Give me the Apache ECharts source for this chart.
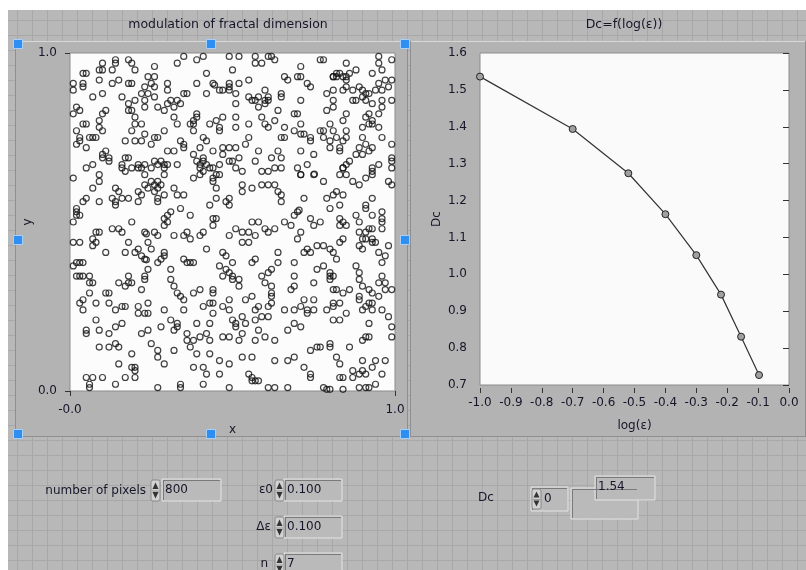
<!DOCTYPE html>
<html><head><meta charset="utf-8">
<script src="https://cdn.jsdelivr.net/npm/echarts@6/dist/echarts.min.js"></script>
<style>
html,body{margin:0;padding:0;background:#fff;width:806px;height:570px;overflow:hidden;}
#panel{position:absolute;left:8px;top:10px;width:798px;height:560px;background-color:#b8b8b8;
background-image:linear-gradient(to right,#a8a8a8 1px,transparent 1px),linear-gradient(to bottom,#a8a8a8 1px,transparent 1px);
background-size:15px 15px;background-position:9px 10px;}
#chart{position:absolute;left:0;top:0;width:806px;height:570px;}
</style></head><body><div id="panel"></div><div id="chart"></div>
<script>
// ---------- data ----------
const leftTitle = 'modulation of fractal dimension';
const rightTitle = 'Dc=f(log(ε))';
const scatterXTickLabels = ['-0.0', '1.0'];
const scatterYTickLabels = ['0.0', '1.0'];
const logEps = [-1.0, -0.70, -0.52, -0.40, -0.30, -0.22, -0.155, -0.097];
const dcValues = [1.536, 1.394, 1.274, 1.163, 1.052, 0.945, 0.831, 0.727];
const controlLabels = ['number of pixels', 'ε0', 'Δε', 'n', 'Dc'];
const controlValues = ['800', '0.100', '0.100', '7', '0', '1.54'];

const scatterTop = [
[0.14,0.98],[0.14,0.97],[0.10,0.97],[0.18,0.98],[0.19,0.97],[0.26,0.96],[0.33,0.97],[0.35,0.99],[0.39,0.98],[0.41,0.99],[0.49,0.99],[0.52,0.99],[0.57,0.99],[0.57,0.97],[0.59,0.97],[0.61,0.99],[0.62,0.99],[0.63,0.98],[0.77,0.98],[0.78,0.98],[0.85,0.97],[0.95,0.99],[0.95,0.97],[0.99,0.98],
[0.04,0.94],[0.05,0.94],[0.09,0.95],[0.10,0.95],[0.13,0.95],[0.20,0.95],[0.42,0.94],[0.50,0.95],[0.71,0.96],[0.71,0.93],[0.66,0.93],[0.67,0.92],[0.81,0.93],[0.82,0.94],[0.83,0.94],[0.85,0.93],[0.86,0.94],[0.88,0.95],[0.93,0.94],[0.96,0.95],
[0.01,0.91],[0.01,0.89],[0.04,0.91],[0.04,0.90],[0.09,0.92],[0.13,0.91],[0.15,0.92],[0.18,0.91],[0.19,0.91],[0.24,0.93],[0.26,0.93],[0.25,0.91],[0.26,0.90],[0.23,0.90],[0.22,0.88],[0.24,0.88],[0.30,0.91],[0.30,0.89],[0.39,0.91],[0.44,0.91],[0.445,0.905],[0.46,0.89],[0.47,0.89],[0.49,0.91],[0.49,0.90],[0.49,0.89],[0.52,0.91],[0.55,0.92],[0.60,0.89],[0.61,0.87],[0.55,0.87],[0.56,0.86],[0.57,0.86],[0.58,0.87],[0.60,0.86],[0.61,0.86],[0.65,0.88],[0.65,0.87],[0.70,0.93],[0.73,0.91],[0.74,0.90],[0.81,0.93],[0.82,0.93],[0.84,0.93],[0.85,0.92],[0.85,0.90],[0.81,0.89],[0.84,0.89],[0.87,0.89],[0.89,0.90],[0.90,0.89],[0.91,0.88],[0.92,0.88],[0.94,0.89],[0.96,0.89],[0.95,0.91],[0.97,0.92],[0.99,0.92],[0.98,0.90],[0.99,0.86],[0.96,0.86],[0.93,0.85],[0.91,0.86],[0.90,0.87],[0.88,0.86],
[0.10,0.88],[0.07,0.87],[0.16,0.87],[0.20,0.86],[0.18,0.85],[0.23,0.86],[0.26,0.87],[0.31,0.86],[0.30,0.85],[0.33,0.86],[0.35,0.88],[0.36,0.88],[0.42,0.88],[0.51,0.88],[0.51,0.85],[0.58,0.84],[0.60,0.85],[0.71,0.86],[0.79,0.88],[0.81,0.86],[0.81,0.84],[0.87,0.86],
[0.02,0.84],[0.01,0.82],[0.03,0.83],[0.10,0.82],[0.11,0.83],[0.18,0.83],[0.19,0.83],[0.23,0.84],[0.27,0.84],[0.29,0.83],[0.32,0.84],[0.34,0.85],[0.39,0.82],[0.39,0.81],[0.64,0.83],[0.69,0.82],[0.79,0.83],[0.85,0.82],[0.92,0.82],[0.95,0.82],[0.96,0.84],
[0.04,0.79],[0.05,0.79],[0.09,0.80],[0.09,0.78],[0.10,0.77],[0.02,0.77],[0.20,0.81],[0.20,0.79],[0.22,0.79],[0.19,0.77],[0.32,0.81],[0.33,0.79],[0.38,0.80],[0.38,0.79],[0.37,0.79],[0.38,0.77],[0.43,0.79],[0.45,0.80],[0.46,0.78],[0.47,0.81],[0.51,0.81],[0.51,0.78],[0.55,0.79],[0.59,0.81],[0.60,0.79],[0.61,0.78],[0.63,0.80],[0.66,0.78],[0.70,0.82],[0.71,0.79],[0.69,0.77],[0.72,0.76],[0.78,0.77],[0.80,0.79],[0.81,0.77],[0.84,0.80],[0.85,0.77],[0.91,0.81],[0.92,0.79],[0.93,0.80],[0.93,0.79],[0.95,0.78],[0.90,0.78],
[0.03,0.75],[0.03,0.74],[0.06,0.75],[0.07,0.75],[0.08,0.75],[0.17,0.74],[0.20,0.74],[0.22,0.74],[0.23,0.76],[0.26,0.75],[0.27,0.75],[0.29,0.77],[0.34,0.74],[0.35,0.73],[0.41,0.75],[0.42,0.74],[0.46,0.77],[0.55,0.75],[0.54,0.73],[0.65,0.75],[0.66,0.75],[0.71,0.76],[0.74,0.75],[0.74,0.74],[0.77,0.77],[0.78,0.75],[0.80,0.74],[0.82,0.75],[0.84,0.74],[0.85,0.75],[0.90,0.75],[0.96,0.75],[0.99,0.73],
[0.02,0.73],[0.05,0.72],[0.10,0.70],[0.12,0.69],[0.10,0.69],[0.17,0.69],[0.18,0.69],[0.21,0.67],[0.26,0.68],[0.28,0.68],[0.30,0.71],[0.32,0.71],[0.35,0.72],[0.38,0.70],[0.40,0.72],[0.41,0.69],[0.39,0.68],[0.41,0.68],[0.44,0.71],[0.47,0.72],[0.49,0.72],[0.51,0.72],[0.47,0.70],[0.50,0.68],[0.52,0.69],[0.58,0.71],[0.62,0.69],[0.64,0.71],[0.65,0.69],[0.71,0.71],[0.75,0.70],[0.80,0.72],[0.83,0.72],[0.83,0.71],[0.86,0.68],[0.89,0.72],[0.91,0.73],[0.92,0.71],[0.93,0.72],[0.88,0.70],[0.90,0.70],[0.99,0.69],[0.99,0.68],[0.25,0.73],[0.11,0.71],[0.30,0.67],[0.40,0.67]
];
const scatterMid = [
[0.05,0.66],[0.07,0.67],[0.12,0.68],[0.16,0.67],[0.17,0.65],[0.16,0.66],[0.19,0.66],[0.21,0.66],[0.22,0.66],[0.23,0.64],[0.23,0.67],[0.25,0.66],[0.27,0.67],[0.29,0.66],[0.29,0.67],[0.33,0.67],[0.40,0.66],[0.41,0.65],[0.42,0.67],[0.43,0.66],[0.44,0.66],[0.46,0.67],[0.49,0.68],[0.51,0.66],[0.53,0.65],[0.57,0.68],[0.59,0.65],[0.61,0.65],[0.63,0.66],[0.65,0.66],[0.70,0.66],[0.71,0.64],[0.71,0.64],[0.73,0.67],[0.75,0.64],[0.752,0.642],[0.84,0.66],[0.84,0.66],[0.85,0.67],[0.83,0.64],[0.85,0.64],[0.93,0.65],[0.93,0.66],[0.95,0.67],[0.91,0.63],[0.99,0.66],[0.01,0.63],[0.09,0.64],[0.09,0.62],
[0.44,0.63],[0.44,0.62],[0.45,0.64],[0.46,0.64],[0.45,0.60],[0.38,0.63],[0.40,0.64],[0.29,0.64],[0.04,0.56],[0.05,0.57],[0.07,0.60],[0.14,0.60],[0.15,0.59],[0.13,0.57],[0.14,0.56],[0.14,0.55],[0.16,0.57],[0.18,0.57],[0.21,0.56],[0.21,0.59],[0.22,0.58],[0.23,0.61],[0.24,0.60],[0.25,0.62],[0.26,0.61],[0.26,0.59],[0.27,0.60],[0.27,0.62],[0.28,0.61],[0.27,0.57],[0.27,0.56],[0.29,0.58],[0.32,0.60],[0.33,0.58],[0.35,0.58],[0.53,0.61],[0.53,0.59],[0.56,0.60],[0.59,0.61],[0.61,0.61],[0.63,0.61],[0.64,0.59],[0.65,0.58],[0.65,0.56],[0.72,0.57],[0.78,0.62],[0.79,0.57],[0.81,0.58],[0.82,0.59],[0.84,0.58],[0.87,0.62],[0.89,0.61],[0.93,0.64],[0.98,0.62],[0.99,0.61],[0.93,0.57],[0.83,0.55],[0.91,0.55],[0.91,0.54],[0.09,0.56],[0.02,0.54],[0.02,0.53],[0.03,0.52],[0.02,0.52],
[0.43,0.55],[0.45,0.57],[0.48,0.56],[0.49,0.57],[0.49,0.55],[0.34,0.54],[0.31,0.53],[0.37,0.52],[0.30,0.52],[0.30,0.50],[0.29,0.51],[0.29,0.49],[0.19,0.50],[0.01,0.50],[0.44,0.51],[0.45,0.51],[0.44,0.49],[0.56,0.50],[0.58,0.50],[0.55,0.47],[0.60,0.48],[0.61,0.47],[0.63,0.48],[0.66,0.50],[0.68,0.49],[0.69,0.52],[0.70,0.53],[0.705,0.535],[0.74,0.51],[0.75,0.49],[0.77,0.50],[0.80,0.54],[0.83,0.51],[0.83,0.49],[0.84,0.50],[0.85,0.49],[0.88,0.52],[0.89,0.50],[0.93,0.52],[0.96,0.53],[0.96,0.51],[0.96,0.50],[0.96,0.48],[0.89,0.47],[0.91,0.47],[0.92,0.48],[0.93,0.48],[0.90,0.45],[0.91,0.45],[0.93,0.45],[0.93,0.44],[0.94,0.44],[0.98,0.43],[0.89,0.43],[0.90,0.42],[0.83,0.44],[0.84,0.45],
[0.09,0.47],[0.08,0.47],[0.07,0.45],[0.08,0.44],[0.07,0.43],[0.13,0.48],[0.15,0.48],[0.16,0.47],[0.18,0.44],[0.23,0.47],[0.235,0.465],[0.24,0.44],[0.26,0.47],[0.27,0.46],[0.32,0.46],[0.35,0.46],[0.36,0.47],[0.37,0.45],[0.40,0.46],[0.41,0.47],[0.42,0.42],[0.49,0.46],[0.51,0.48],[0.53,0.47],[0.53,0.44],[0.55,0.44],[0.57,0.46],[0.70,0.45],[0.71,0.47],[0.01,0.44],[0.03,0.44],
[0.11,0.41],[0.17,0.41],[0.20,0.41],[0.21,0.42],[0.22,0.40],[0.23,0.39],[0.235,0.388],[0.25,0.42],[0.27,0.38],[0.28,0.39],[0.29,0.40],[0.29,0.41],[0.35,0.39],[0.36,0.38],[0.37,0.38],[0.38,0.38],[0.47,0.41],[0.48,0.40],[0.50,0.38],[0.46,0.37],[0.56,0.38],[0.57,0.39],[0.64,0.38],[0.64,0.41],[0.69,0.38],[0.72,0.41],[0.73,0.42],[0.74,0.41],[0.76,0.43],[0.78,0.43],[0.80,0.42],[0.81,0.41],[0.82,0.39],[0.95,0.41],[0.97,0.40],[0.96,0.38],[0.02,0.38],[0.03,0.38],[0.04,0.38],[0.01,0.37],
[0.02,0.34],[0.04,0.34],[0.06,0.34],[0.18,0.34],[0.24,0.36],[0.31,0.36],[0.47,0.34],[0.48,0.36],[0.49,0.35],[0.50,0.34],[0.59,0.34],[0.61,0.35],[0.62,0.36],[0.69,0.34],[0.76,0.36],[0.78,0.37],[0.80,0.35],[0.80,0.34],[0.81,0.34],[0.88,0.37],[0.89,0.35],[0.96,0.34],[0.23,0.34]
];
const scatterBottom = [
[0.03,0.34],[0.06,0.32],[0.07,0.32],[0.15,0.32],[0.17,0.31],[0.18,0.32],[0.19,0.32],[0.23,0.33],[0.31,0.33],[0.32,0.31],[0.33,0.29],[0.34,0.28],[0.35,0.27],[0.38,0.29],[0.40,0.30],[0.44,0.30],[0.44,0.29],[0.50,0.33],[0.52,0.33],[0.52,0.31],[0.60,0.32],[0.62,0.31],[0.62,0.29],[0.62,0.28],[0.62,0.26],[0.69,0.31],[0.68,0.30],[0.75,0.32],[0.80,0.33],[0.81,0.30],[0.82,0.30],[0.84,0.29],[0.86,0.30],[0.89,0.33],[0.90,0.31],[0.92,0.30],[0.93,0.29],[0.95,0.32],[0.95,0.28],[0.97,0.32],[0.97,0.30],[0.99,0.30],[0.06,0.29],[0.11,0.29],[0.12,0.29],[0.22,0.30],
[0.04,0.27],[0.03,0.26],[0.04,0.24],[0.08,0.26],[0.12,0.26],[0.14,0.24],[0.16,0.25],[0.17,0.25],[0.21,0.25],[0.21,0.23],[0.23,0.23],[0.24,0.26],[0.24,0.23],[0.29,0.24],[0.35,0.24],[0.41,0.25],[0.43,0.26],[0.44,0.26],[0.44,0.23],[0.47,0.25],[0.49,0.27],[0.49,0.24],[0.54,0.27],[0.56,0.28],[0.57,0.24],[0.58,0.25],[0.61,0.25],[0.66,0.24],[0.69,0.24],[0.71,0.25],[0.72,0.27],[0.73,0.23],[0.73,0.24],[0.75,0.27],[0.75,0.24],[0.79,0.24],[0.81,0.26],[0.81,0.25],[0.83,0.26],[0.85,0.23],[0.89,0.27],[0.89,0.28],[0.90,0.24],[0.91,0.25],[0.92,0.26],[0.93,0.24],[0.93,0.26],[0.96,0.24],[0.98,0.22],
[0.08,0.21],[0.05,0.18],[0.05,0.17],[0.09,0.18],[0.12,0.17],[0.14,0.19],[0.16,0.20],[0.22,0.17],[0.24,0.18],[0.28,0.19],[0.31,0.21],[0.32,0.18],[0.33,0.20],[0.33,0.19],[0.36,0.17],[0.36,0.15],[0.38,0.15],[0.39,0.20],[0.40,0.16],[0.42,0.17],[0.43,0.20],[0.43,0.15],[0.47,0.16],[0.49,0.16],[0.50,0.21],[0.51,0.19],[0.51,0.20],[0.52,0.15],[0.53,0.22],[0.54,0.20],[0.53,0.17],[0.57,0.15],[0.57,0.21],[0.58,0.18],[0.59,0.22],[0.61,0.22],[0.60,0.16],[0.63,0.15],[0.67,0.18],[0.69,0.20],[0.71,0.19],[0.81,0.21],[0.83,0.21],[0.92,0.20],[0.91,0.16],[0.92,0.16],[0.90,0.15],[0.99,0.19],[0.99,0.16],
[0.09,0.13],[0.12,0.13],[0.14,0.14],[0.15,0.13],[0.19,0.11],[0.25,0.14],[0.27,0.12],[0.27,0.10],[0.29,0.08],[0.32,0.12],[0.37,0.13],[0.39,0.11],[0.43,0.11],[0.46,0.09],[0.49,0.08],[0.53,0.10],[0.56,0.10],[0.63,0.09],[0.67,0.09],[0.69,0.10],[0.74,0.12],[0.76,0.13],[0.77,0.13],[0.80,0.14],[0.80,0.13],[0.82,0.10],[0.83,0.08],[0.86,0.13],[0.15,0.08],[0.19,0.07],[0.20,0.07],[0.20,0.06],[0.38,0.07],[0.41,0.07],[0.42,0.05],[0.46,0.05],[0.55,0.05],[0.56,0.04],
[0.05,0.04],[0.07,0.04],[0.10,0.04],[0.17,0.04],[0.20,0.04],[0.06,0.02],[0.06,0.01],[0.14,0.02],[0.27,0.01],[0.34,0.02],[0.34,0.01],[0.41,0.02],[0.49,0.01],[0.56,0.03],[0.57,0.03],[0.58,0.03],[0.61,0.01],[0.63,0.01],[0.67,0.01],[0.72,0.07],[0.74,0.05],[0.74,0.04],[0.78,0.01],[0.80,0.005],[0.83,0.04],[0.84,0.04],[0.87,0.06],[0.87,0.04],[0.89,0.05],[0.90,0.09],[0.90,0.06],[0.91,0.05],[0.93,0.07],[0.94,0.09],[0.96,0.05],[0.97,0.09],[0.94,0.02],[0.89,0.01],[0.91,0.01],[0.92,0.01],[0.84,0.005],[0.79,0.005]
];

// ---------- decorations ----------
const FONT = '"DejaVu Sans", sans-serif';
const TXT = '#16162a';
const G = [];
function rect(x, y, w, h, style, z) { G.push({ type: 'rect', shape: { x, y, width: w, height: h, r: style.r || 0 }, style, z: z == null ? 1 : z, silent: true }); }
function seg(x1, y1, x2, y2, stroke, z) { G.push({ type: 'line', shape: { x1, y1, x2, y2 }, style: { stroke, lineWidth: 1 }, z: z == null ? 2 : z, silent: true }); }
function txt(x, y, t, align, size) { G.push({ type: 'text', x, y, style: { text: t, fill: TXT, font: (size || 12) + 'px ' + FONT, textAlign: align || 'left', textVerticalAlign: 'middle', verticalAlign: 'middle' }, z: 20, silent: true }); }
function frame(x, y, w, h) {
  rect(x, y, w, h, { fill: '#b3b3b3' }, -5);
  seg(x, y + 0.5, x + w, y + 0.5, '#d8d8d8', -4);
  seg(x + 0.5, y, x + 0.5, y + h, '#8f8f8f', -4);
  seg(x + w - 0.5, y, x + w - 0.5, y + h, '#8f8f8f', -4);
  seg(x, y + h - 0.5, x + w, y + h - 0.5, '#8f8f8f', -4);
}
function field(x, y, w, h) {
  rect(x, y, w, h, { fill: '#bababa', stroke: '#e4e4e4', lineWidth: 1 }, 10);
  seg(x + 1, y + 1.5, x + w - 1, y + 1.5, '#7a7a7a', 11);
  seg(x + 1.5, y + 1, x + 1.5, y + h - 1, '#7a7a7a', 11);
}
function spinner(x, y, w, h) {
  rect(x, y, w, h, { fill: '#d2d2d2', stroke: '#8a8a8a', lineWidth: 1, r: 2 }, 12);
  const cx = x + w / 2, m = y + h / 2;
  G.push({ type: 'polygon', shape: { points: [[cx, y + 2.5], [x + 1.5, m - 1.5], [x + w - 1.5, m - 1.5]] }, style: { fill: '#333' }, z: 13, silent: true });
  G.push({ type: 'polygon', shape: { points: [[cx, y + h - 2.5], [x + 1.5, m + 1.5], [x + w - 1.5, m + 1.5]] }, style: { fill: '#333' }, z: 13, silent: true });
  seg(x + 1, m + 0.5, x + w - 1, m + 0.5, '#999', 13);
}

frame(15, 41, 393, 396);
frame(410, 41, 396, 396);
txt(228, 25, leftTitle, 'center', 12.5);
txt(624, 25, rightTitle, 'center', 12.5);

[[18, 44], [211, 44], [405, 44], [18, 240], [405, 240], [18, 434], [211, 434], [405, 434]].forEach(p => {
  rect(p[0] - 4.5, p[1] - 4.5, 9, 9, { fill: '#2f8ef2', stroke: '#a9d0f7', lineWidth: 1 }, 30);
});

// bottom controls
txt(146, 491, controlLabels[0], 'right');
spinner(151, 480, 9, 21); field(162, 479, 59, 22); txt(165, 490, controlValues[0]);
txt(273, 490, controlLabels[1], 'right');
spinner(275, 480, 9, 21); field(284, 479, 58, 22); txt(287, 490, controlValues[1]);
txt(271, 527, controlLabels[2], 'right');
spinner(275, 517, 9, 21); field(284, 516, 58, 22); txt(287, 527, controlValues[2]);
txt(268, 564, controlLabels[3], 'right');
spinner(275, 554, 9, 21); field(284, 553, 58, 22); txt(287, 564, controlValues[3]);
txt(478, 498, controlLabels[4], 'left');
field(531, 487, 37, 24); spinner(532, 489, 9, 20); txt(544, 499, controlValues[4]);
field(571, 488, 67, 31);
field(595, 476, 60, 24); txt(598, 487, controlValues[5]);

// ---------- chart ----------
const chart = echarts.init(document.getElementById('chart'), null, { renderer: 'canvas' });
const axisLbl = { color: TXT, fontFamily: FONT, fontSize: 12 };
chart.setOption({
  animation: false,
  backgroundColor: 'transparent',
  graphic: G,
  grid: [
    { left: 70, top: 53, width: 325, height: 338, show: true, backgroundColor: '#fcfcfc', borderColor: '#8c8c8c', borderWidth: 1, containLabel: false },
    { left: 480, top: 53, width: 309, height: 332, show: true, backgroundColor: '#fafafa', borderColor: '#8c8c8c', borderWidth: 1, containLabel: false }
  ],
  xAxis: [
    { gridIndex: 0, type: 'value', min: 0, max: 1, interval: 1, offset: 3,
      axisLine: { show: false }, splitLine: { show: false },
      axisTick: { show: true, length: 5, lineStyle: { color: '#333' } },
      axisLabel: Object.assign({ margin: 10, formatter: v => scatterXTickLabels[Math.round(v)] }, axisLbl),
      name: 'x', nameLocation: 'middle', nameGap: 30, nameTextStyle: axisLbl },
    { gridIndex: 1, type: 'value', min: -1, max: 0, interval: 0.1, offset: 3,
      axisLine: { show: false }, splitLine: { show: false },
      axisTick: { show: true, length: 5, lineStyle: { color: '#333' } },
      axisLabel: Object.assign({ margin: 9, formatter: v => (Math.abs(v) < 1e-9 ? 0 : v).toFixed(1) }, axisLbl),
      name: 'log(ε)', nameLocation: 'middle', nameGap: 32, nameTextStyle: axisLbl }
  ],
  yAxis: [
    { gridIndex: 0, type: 'value', min: 0, max: 1, interval: 1, offset: 3,
      axisLine: { show: false }, splitLine: { show: false },
      axisTick: { show: true, length: 5, lineStyle: { color: '#333' } },
      axisLabel: Object.assign({ margin: 10, formatter: v => scatterYTickLabels[Math.round(v)] }, axisLbl),
      name: 'y', nameLocation: 'middle', nameGap: 31, nameTextStyle: axisLbl },
    { gridIndex: 1, type: 'value', min: 0.7, max: 1.6, interval: 0.1, offset: 4,
      axisLine: { show: false }, splitLine: { show: false },
      axisTick: { show: true, length: 6, lineStyle: { color: '#333' } },
      axisLabel: Object.assign({ margin: 9, formatter: v => v.toFixed(1) }, axisLbl),
      name: 'Dc', nameLocation: 'middle', nameGap: 33, nameTextStyle: axisLbl }
  ],
  series: [
    { type: 'scatter', xAxisIndex: 0, yAxisIndex: 0,
      data: scatterTop.concat(scatterMid, scatterBottom),
      symbol: 'circle', symbolSize: 6, clip: true,
      itemStyle: { color: 'rgba(0,0,0,0)', borderColor: '#111', borderWidth: 1.2 },
      emphasis: { disabled: true } },
    { type: 'line', xAxisIndex: 1, yAxisIndex: 1,
      data: logEps.map((x, i) => [x, dcValues[i]]),
      symbol: 'circle', symbolSize: 7, showSymbol: true,
      lineStyle: { color: '#333', width: 1.2 },
      itemStyle: { color: '#a0a0a0', borderColor: '#222', borderWidth: 1 },
      emphasis: { disabled: true } }
  ]
});
</script></body></html>
